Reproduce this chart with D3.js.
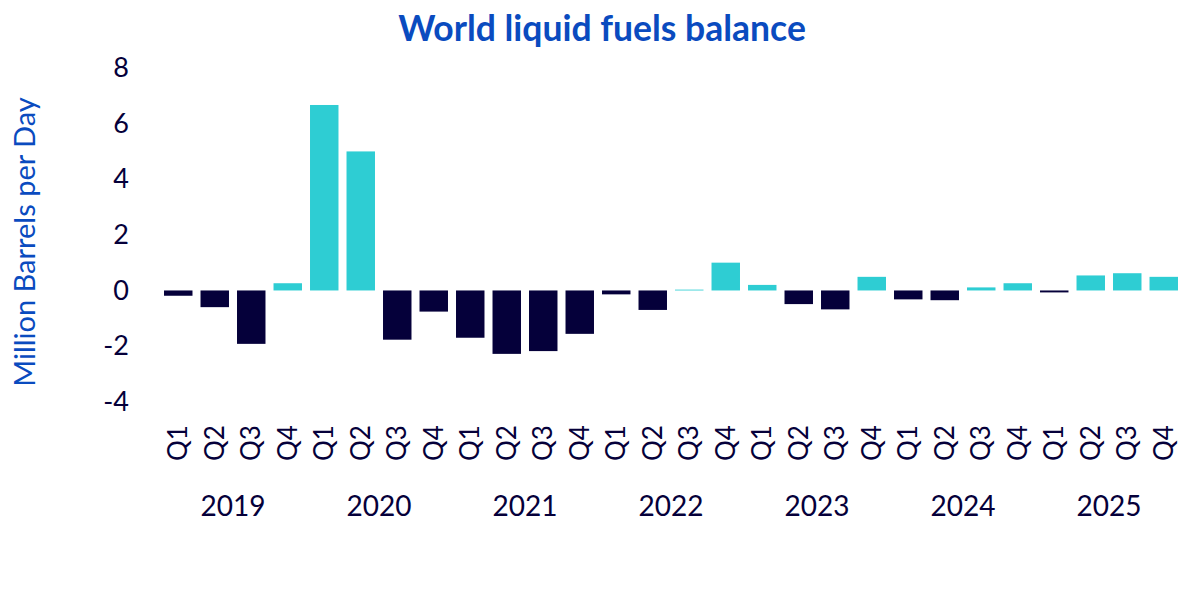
<!DOCTYPE html>
<html>
<head>
<meta charset="utf-8">
<script src="https://cdn.jsdelivr.net/npm/d3@7"></script>
<style>
  body { margin: 0; background: #fff; }
  svg { font-family: Lato, "Open Sans", sans-serif; }
</style>
</head>
<body>
<script>
var years = ["2019", "2020", "2021", "2022", "2023", "2024", "2025"];
var quarters = ["Q1", "Q2", "Q3", "Q4"];
// balance, million barrels per day, one per quarter
var balance = [
  -0.19, -0.6, -1.92, 0.26,
  6.67, 5.0, -1.77, -0.76,
  -1.7, -2.28, -2.18, -1.56,
  -0.14, -0.7, 0.03, 1.0,
  0.2, -0.49, -0.68, 0.49,
  -0.32, -0.35, 0.11, 0.26,
  -0.07, 0.54, 0.62, 0.49
];
var yTicks = [-4, -2, 0, 2, 4, 6, 8];

var data = [];
years.forEach(function (y, yi) {
  quarters.forEach(function (q, qi) {
    data.push({ key: y + q, year: y, q: q, v: balance[yi * 4 + qi] });
  });
});

var svg = d3.select("body").append("svg")
    .attr("width", 1200)
    .attr("height", 590);

var x = d3.scaleBand()
    .domain(data.map(function (d) { return d.key; }))
    .range([160, 1182])
    .paddingInner(0.22)
    .paddingOuter(0.11);

var y = d3.scaleLinear()
    .domain([-4, 8])
    .range([401.7, 68]);

// title
svg.append("text")
    .attr("x", 602)
    .attr("y", 41)
    .attr("text-anchor", "middle")
    .attr("fill", "#0a4bbf")
    .attr("font-size", 35.5)
    .attr("font-weight", "bold")
    .text("World liquid fuels balance");

// y axis label
svg.append("text")
    .attr("transform", "translate(35,242) rotate(-90)")
    .attr("text-anchor", "middle")
    .attr("fill", "#0a4bbf")
    .attr("font-size", 29)
    .text("Million Barrels per Day");

// y axis, no line
var yAxis = svg.append("g")
    .attr("transform", "translate(129,0)")
    .call(d3.axisLeft(y).tickValues(yTicks).tickSize(0).tickPadding(0)
      .tickFormat(function (d) { return String(d); }));
yAxis.select(".domain").remove();
yAxis.selectAll("text")
    .attr("font-size", 27)
    .attr("font-family", "Lato, sans-serif")
    .attr("fill", "#05003a");

// bars
svg.selectAll("rect.bar")
    .data(data)
    .enter().append("rect")
    .attr("class", "bar")
    .attr("x", function (d) { return x(d.key); })
    .attr("width", x.bandwidth())
    .attr("y", function (d) { return y(Math.max(0, d.v)); })
    .attr("height", function (d) { return Math.abs(y(d.v) - y(0)); })
    .attr("fill", function (d) { return d.v >= 0 ? "#2ecdd3" : "#05003a"; });

// quarter labels, rotated
var xAxis = svg.append("g")
    .attr("transform", "translate(0,420)")
    .call(d3.axisBottom(x).tickSize(0).tickFormat(function (k) { return k.slice(4); }));
xAxis.select(".domain").remove();
xAxis.selectAll("text")
    .attr("font-size", 26)
    .attr("font-family", "Lato, sans-serif")
    .attr("fill", "#05003a")
    .attr("transform", "rotate(-90)")
    .attr("text-anchor", "start")
    .attr("x", -41)
    .attr("y", 0)
    .attr("dy", "0.35em");

// year labels
svg.selectAll("text.year")
    .data(years)
    .enter().append("text")
    .attr("class", "year")
    .attr("x", function (yr) {
      return (x(yr + "Q1") + x(yr + "Q4") + x.bandwidth()) / 2;
    })
    .attr("y", 516)
    .attr("text-anchor", "middle")
    .attr("font-size", 28)
    .attr("fill", "#05003a")
    .text(function (yr) { return yr; });
</script>
</body>
</html>
